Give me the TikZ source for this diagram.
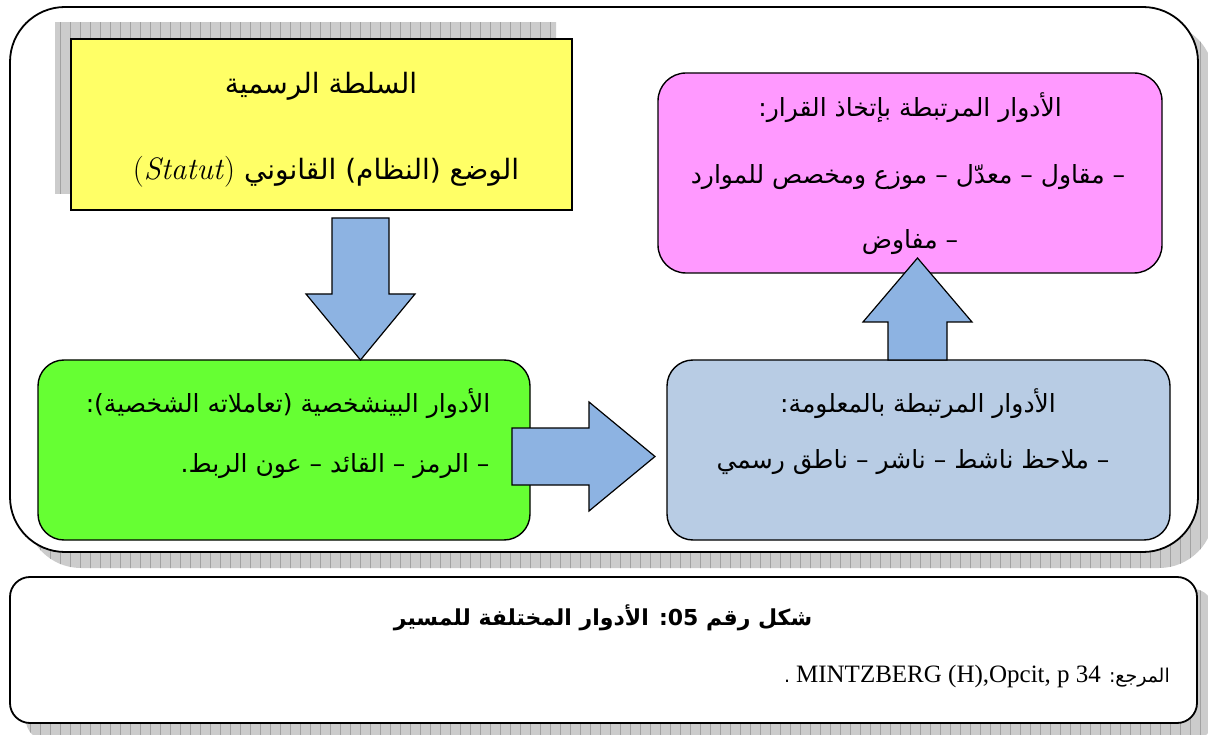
\documentclass[tikz,border=0pt]{standalone}
\usepackage{fontspec}
\newfontfamily\arfont[Script=Arabic]{DejaVu Sans}
\newfontfamily\refrm{Liberation Serif}
\TeXXeTstate=1
\usetikzlibrary{calc}

\definecolor{boxyellow}{HTML}{FFFF66}
\definecolor{boxpink}{HTML}{FF99FF}
\definecolor{boxgreen}{HTML}{66FF33}
\definecolor{boxblue}{HTML}{B8CCE4}
\definecolor{arrowblue}{HTML}{8DB3E2}
\definecolor{shadowfill}{HTML}{CCCCCC}
\definecolor{shadowline}{HTML}{A2A2A2}

% right-to-left line, and a left-to-right piece inside it
\newcommand\rtl[1]{\beginR #1\endR}
\newcommand\ltrbox[1]{\hbox{\beginL #1\endL}}

% grey shadow with a square grid, clipped to the given path
\newcommand\gridshadow[2]{%
  \begin{scope}
    \clip[#1] #2;
    \fill[shadowfill] (0,0) rectangle (1220,745);
    \draw[shadowline, line width=0.6pt, step=10] (0,0) grid (1220,745);
  \end{scope}}

\tikzset{
  frame/.style={draw=black, line width=1.8pt, fill=white},
  card/.style={draw=black, line width=1.4pt, inner sep=0pt},
  artext/.style={font=\arfont\fontsize{25}{30}\selectfont, inner sep=0pt},
  bigtext/.style={font=\arfont\fontsize{28}{33}\selectfont, inner sep=0pt},
  captext/.style={font=\arfont\bfseries\fontsize{22}{26}\selectfont, inner sep=0pt},
  reftext/.style={font=\arfont\fontsize{19}{23}\selectfont, inner sep=0pt},
  arrowshape/.style={draw=black, line width=1.2pt, fill=arrowblue, line join=miter},
  pics/blockarrow/.style n args={4}{code={
    \draw[arrowshape] (0,-#2/2) -- ({#1-#4},-#2/2) -- ({#1-#4},-#3/2) -- (#1,0)
      -- ({#1-#4},#3/2) -- ({#1-#4},#2/2) -- (0,#2/2) -- cycle;}}
}

\begin{document}
\begin{tikzpicture}[x=1pt, y=-1pt]
\useasboundingbox (0,0) rectangle (1208,735);

% outer frame with its shadow
\gridshadow{rounded corners=55pt}{(26,23) rectangle (1214,568)}
\draw[frame, rounded corners=55pt] (10,7) rectangle (1198,552);

% caption frame with its shadow
\gridshadow{rounded corners=20pt}{(26,589) rectangle (1213,740)}
\draw[frame, rounded corners=20pt] (10,577) rectangle (1197,723);

% formal authority box
\gridshadow{}{(55,23) rectangle (556,194)}
\node[card, fill=boxyellow, minimum width=501pt, minimum height=171pt] (yellowbox) at (321.5,124.5) {};
\node[bigtext] (yellow1) at (321,86) {\rtl{السلطة الرسمية}};
\node[bigtext] (yellow2) at (326,172) {\rtl{الوضع (النظام) القانوني \ltrbox{\rmfamily\fontsize{31}{35}\selectfont(\textit{Statut})}}};

% decisional roles
\node[card, fill=boxpink, rounded corners=28pt, minimum width=504pt, minimum height=200pt] (pinkbox) at (910,173) {};
\node[artext] (pink1) at (910,108) {\rtl{الأدوار المرتبطة بإتخاذ القرار:}};
\node[artext] (pink2) at (908,177) {\rtl{– مقاول – معدّل – موزع ومخصص للموارد}};
\node[artext] (pink3) at (910,242) {\rtl{– مفاوض}};

% interpersonal roles
\node[card, fill=boxgreen, rounded corners=26pt, minimum width=492pt, minimum height=180pt] (greenbox) at (284,450) {};
\node[artext] (green1) at (288,404) {\rtl{الأدوار البينشخصية (تعاملاته الشخصية):}};
\node[artext] (green2) at (335,466) {\rtl{– الرمز – القائد – عون الربط.}};

% informational roles
\node[card, fill=boxblue, rounded corners=26pt, minimum width=503pt, minimum height=180pt] (bluebox) at (918.5,450) {};
\node[artext] (blue1) at (918,404) {\rtl{الأدوار المرتبطة بالمعلومة:}};
\node[artext] (blue2) at (913,462) {\rtl{– ملاحظ ناشط – ناشر – ناطق رسمي}};

% block arrows
\pic[rotate=-90] (downarrow) at (360.5,218) {blockarrow={142}{57}{109}{66}};
\pic (rightarrow) at (512,456.5) {blockarrow={143}{57}{109}{66}};
\pic[rotate=90] (uparrow) at (917.5,360) {blockarrow={102}{59}{109}{64}};

% caption
\node[captext] (cap1) at (603,618) {\rtl{شكل رقم \ltrbox{05}: الأدوار المختلفة للمسير}};
\node[reftext, anchor=east] (cap2) at (1170,676) {\rtl{المرجع: \ltrbox{\refrm\fontsize{25}{29}\selectfont MINTZBERG (H),Opcit, p 34} .}};
\end{tikzpicture}
\end{document}
